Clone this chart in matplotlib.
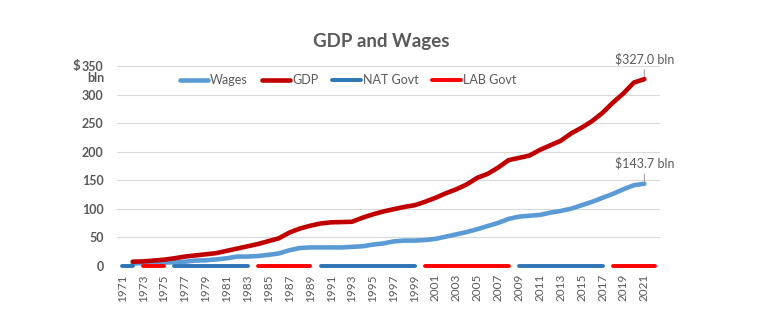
import numpy as np
import matplotlib
matplotlib.use("Agg")
import matplotlib.pyplot as plt

plt.rcParams['font.family'] = ['Lato', 'DejaVu Sans']

years = list(range(1971, 2023))
gdp = [None, 7, 7.6, 9, 10.5, 13, 16, 18, 20, 22, 26, 30, 34, 38, 43, 48, 58, 65, 70, 74,
       76, 76.5, 77, 84, 90, 95, 99, 103, 106, 112, 119, 127, 134, 142.5, 154, 161, 172,
       185, 189, 193, 203, 211, 219, 232, 242, 253.5, 268, 286, 302, 321, 327.0, None]
wages = [None, 4, 4.5, 5, 5.5, 6, 7, 9, 9.5, 11, 13, 16, 16, 17, 19, 21.5, 27, 31, 32, 32,
         32, 32, 33, 34, 37, 39, 42.6, 44, 44, 45, 47, 51, 55, 59, 64, 69.5, 75,
         82, 86, 87.6, 89, 93, 96, 100, 106, 112, 119, 126, 134, 141, 143.7, None]
govt = (['NAT'] * 2 + ['LAB'] * 3 + ['NAT'] * 8 + ['LAB'] * 6 + ['NAT'] * 10 +
        ['LAB'] * 9 + ['NAT'] * 9 + ['LAB'] * 5)
nat_govt = [0 if g == 'NAT' else None for g in govt]
lab_govt = [0 if g == 'LAB' else None for g in govt]

title = "GDP and Wages"
y_ticks = [0, 50, 100, 150, 200, 250, 300, 350]
x_ticks = list(range(1971, 2022, 2))

def arr(v):
    return np.array([np.nan if x is None else x for x in v], dtype=float)

W, H = 760, 325
fig = plt.figure(figsize=(W / 100, H / 100), dpi=100)
def fx(x): return x / W
def fy(y): return 1 - y / H

ax = fig.add_axes([fx(117), fy(265.7), fx(660) - fx(117), fy(66) - fy(265.7)])
grey = '#595959'

ax.set_xlim(1970.5, 2022.5)
ax.set_ylim(0, 350)
ax.set_yticks(y_ticks)
ax.set_xticks(x_ticks)
ax.set_xticklabels([str(x) for x in x_ticks], rotation=90, fontsize=8.5, color=grey)
ax.set_yticklabels([str(v) for v in y_ticks], fontsize=9, color=grey, fontweight='bold')
ax.tick_params(axis='both', length=0)
ax.tick_params(axis='y', pad=9.5)
ax.tick_params(axis='x', pad=6)
for s in ax.spines.values():
    s.set_visible(False)
ax.grid(axis='y', color='#D9D9D9', lw=0.8)
ax.set_axisbelow(True)

l1, = ax.plot(years, arr(wages), color='#5B9BD5', lw=3.3, solid_capstyle='round', label='Wages', zorder=3)
l2, = ax.plot(years, arr(gdp), color='#C00000', lw=3.3, solid_capstyle='round', label='GDP', zorder=4)
l3, = ax.plot(years, arr(nat_govt), color='#2E75B6', lw=2.8, solid_capstyle='round', label='NAT Govt', zorder=5, clip_on=False)
l4, = ax.plot(years, arr(lab_govt), color='#FF0000', lw=2.8, solid_capstyle='round', label='LAB Govt', zorder=5, clip_on=False)

for series in (gdp, wages):
    v = series[-2]
    ax.annotate(f"${v:.1f} bln", xy=(years[-2], v), xytext=(0, 20), textcoords='offset pixels',
                ha='center', va='center', fontsize=9, color=grey,
                arrowprops=dict(arrowstyle='-', color='#A6A6A6', lw=0.8, shrinkA=1, shrinkB=1))

leg = fig.legend(handles=[l1, l2, l3, l4], loc='center', bbox_to_anchor=(fx(348), fy(80)),
                 ncol=4, frameon=False, fontsize=9, handlelength=2.3, handletextpad=0.15,
                 columnspacing=1.1, borderaxespad=0, borderpad=0)
for t in leg.get_texts():
    t.set_color(grey)

fig.text(fx(381), fy(41.5), title, ha='center', va='center', fontsize=13.5, fontweight='bold', color=grey)
fig.text(fx(73), fy(66), "$", ha='left', va='center', fontsize=9.5, fontweight='bold', color=grey)
fig.text(fx(96), fy(78.3), "bln", ha='center', va='center', fontsize=9, fontweight='bold', color=grey)

fig.savefig('out.png', dpi=100)
